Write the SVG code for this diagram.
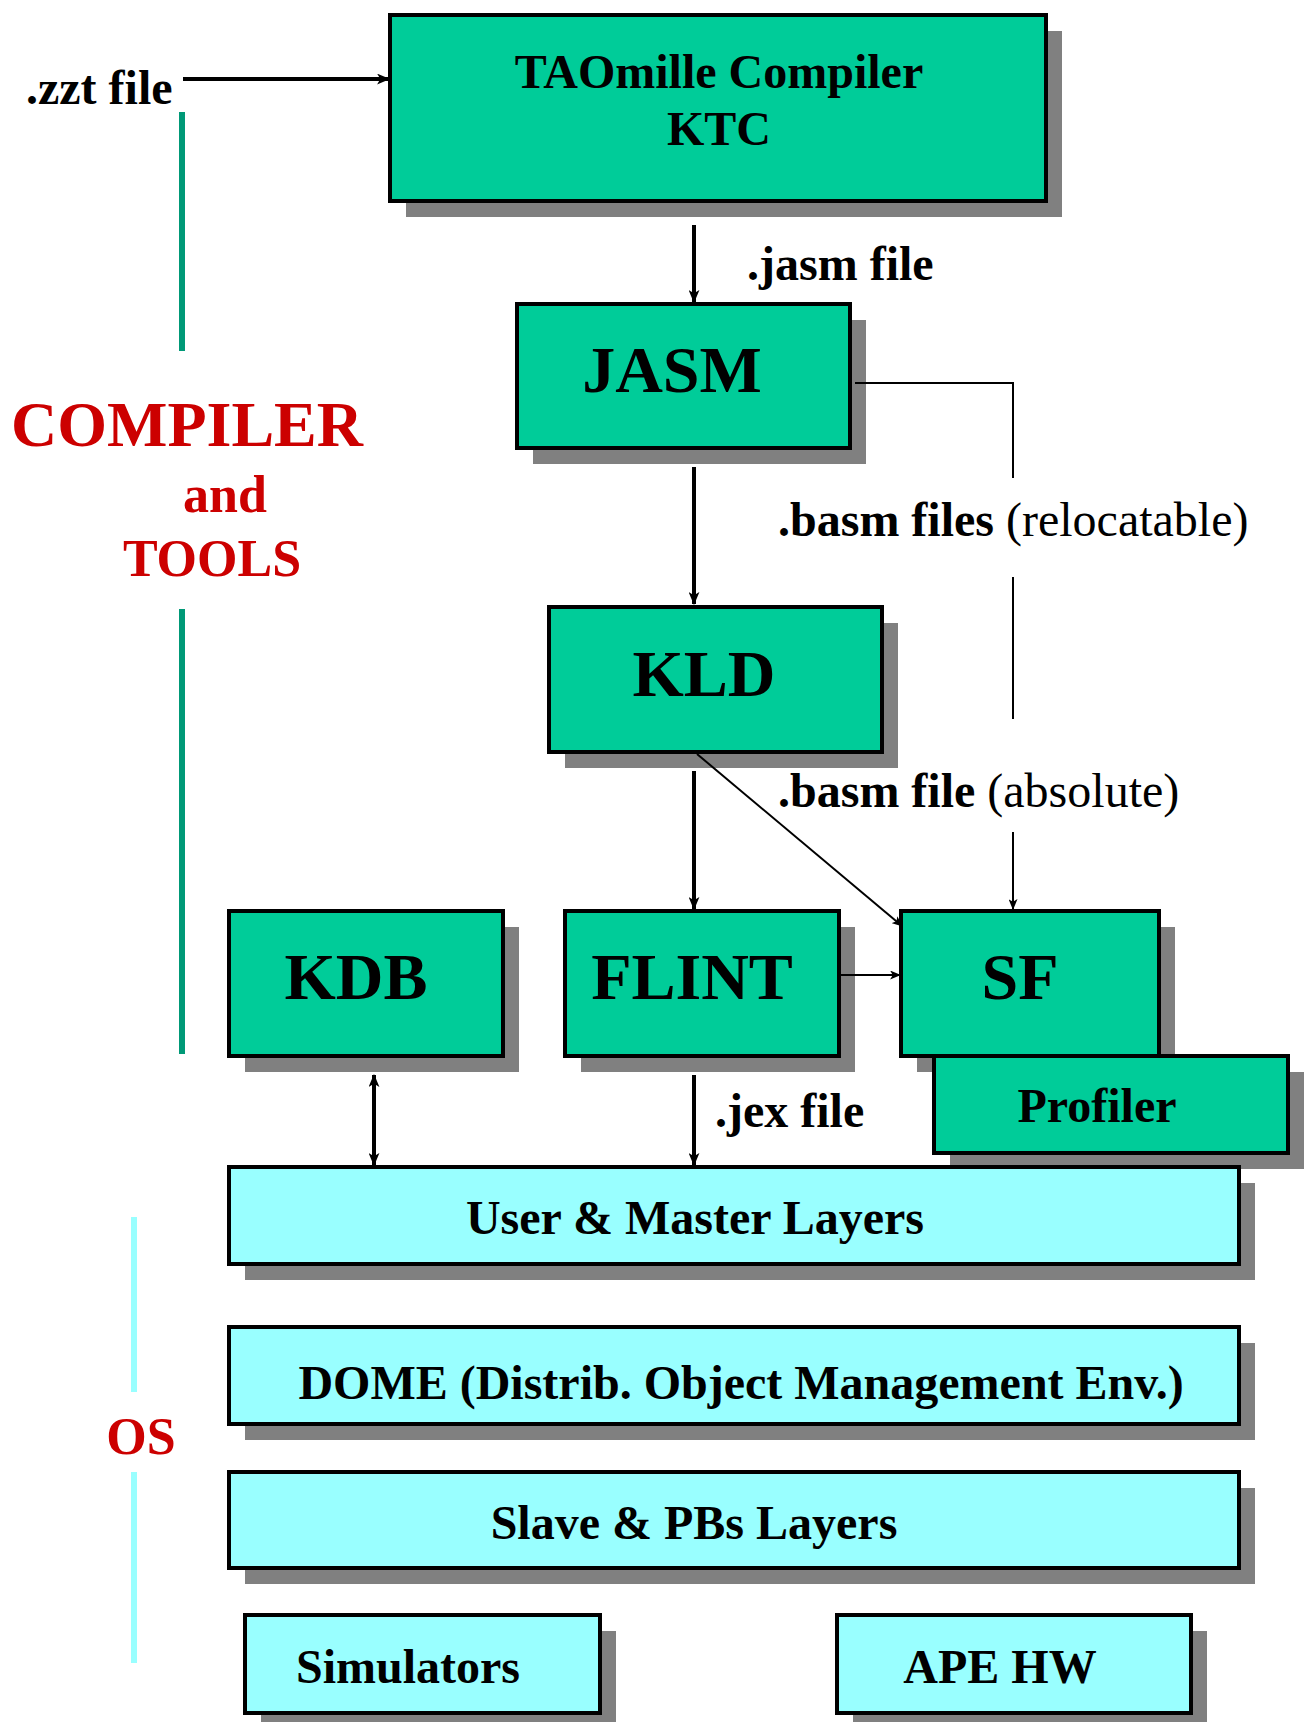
<svg xmlns="http://www.w3.org/2000/svg" width="1311" height="1722" viewBox="0 0 1311 1722">
<defs>
<marker id="ah" viewBox="0 0 12 10" refX="11" refY="5" markerWidth="13" markerHeight="11" markerUnits="userSpaceOnUse" orient="auto-start-reverse"><path d="M0,0 L12,5 L0,10 L3,5 Z" fill="#000"/></marker>
<marker id="ahs" viewBox="0 0 12 10" refX="11" refY="5" markerWidth="11" markerHeight="9" markerUnits="userSpaceOnUse" orient="auto"><path d="M0,0 L12,5 L0,10 L3,5 Z" fill="#000"/></marker>
</defs>
<style>
.sh{fill:#808080}
.g{fill:#00CC99;stroke:#000;stroke-width:4}
.c{fill:#99FFFF;stroke:#000;stroke-width:4}
text{font-family:"Liberation Serif","Times New Roman",serif;font-weight:bold;fill:#000}
.t48{font-size:48px;text-anchor:middle}
.t66{font-size:66px;text-anchor:middle}
.lab{font-size:48px}
.red{fill:#CC0000}
.n{font-weight:normal}
.thick{stroke:#000;stroke-width:4;fill:none}
.thin{stroke:#000;stroke-width:2;fill:none}
</style>
<rect width="1311" height="1722" fill="#fff"/>

<g id="side-labels">
<line x1="182" y1="112" x2="182" y2="351" stroke="#009977" stroke-width="6"/>
<line x1="182" y1="609" x2="182" y2="1054" stroke="#009977" stroke-width="6"/>
<text x="11" y="446" class="red" style="font-size:64px">COMPILER</text>
<text x="225" y="512" class="red" style="font-size:52px;text-anchor:middle">and</text>
<text x="212" y="576" class="red" style="font-size:52px;text-anchor:middle">TOOLS</text>
<line x1="134" y1="1217" x2="134" y2="1392" stroke="#99FFFF" stroke-width="6"/>
<line x1="134" y1="1472" x2="134" y2="1663" stroke="#99FFFF" stroke-width="6"/>
<text x="141" y="1454" class="red" style="font-size:52px;text-anchor:middle">OS</text>
</g>

<g id="ktc">
<rect x="406" y="31" width="656" height="186" class="sh"/>
<rect x="390" y="15" width="656" height="186" class="g"/>
<text x="719" y="88" class="t48">TAOmille Compiler</text>
<text x="719" y="145" class="t48">KTC</text>
</g>

<g id="jasm">
<rect x="533" y="320" width="333" height="144" class="sh"/>
<rect x="517" y="304" width="333" height="144" class="g"/>
<text x="672" y="392" class="t66">JASM</text>
</g>

<g id="kld">
<rect x="565" y="623" width="333" height="145" class="sh"/>
<rect x="549" y="607" width="333" height="145" class="g"/>
<text x="704" y="696" class="t66">KLD</text>
</g>

<g id="kdb">
<rect x="245" y="927" width="274" height="145" class="sh"/>
<rect x="229" y="911" width="274" height="145" class="g"/>
<text x="356" y="999" class="t66">KDB</text>
</g>

<g id="flint">
<rect x="581" y="927" width="274" height="145" class="sh"/>
<rect x="565" y="911" width="274" height="145" class="g"/>
<text x="692" y="999" class="t66">FLINT</text>
</g>

<g id="sf">
<rect x="917" y="927" width="258" height="145" class="sh"/>
<rect x="901" y="911" width="258" height="145" class="g"/>
<text x="1020" y="999" class="t66">SF</text>
</g>

<g id="profiler">
<rect x="950" y="1072" width="354" height="97" class="sh"/>
<rect x="934" y="1056" width="354" height="97" class="g"/>
<text x="1097" y="1122" class="t48">Profiler</text>
</g>

<g id="user-master">
<rect x="245" y="1183" width="1010" height="97" class="sh"/>
<rect x="229" y="1167" width="1010" height="97" class="c"/>
<text x="695" y="1234" class="t48">User &amp; Master Layers</text>
</g>

<g id="dome">
<rect x="245" y="1343" width="1010" height="97" class="sh"/>
<rect x="229" y="1327" width="1010" height="97" class="c"/>
<text x="741" y="1399" class="t48">DOME (Distrib. Object Management Env.)</text>
</g>

<g id="slave">
<rect x="245" y="1488" width="1010" height="96" class="sh"/>
<rect x="229" y="1472" width="1010" height="96" class="c"/>
<text x="694" y="1539" class="t48">Slave &amp; PBs Layers</text>
</g>

<g id="simulators">
<rect x="261" y="1631" width="355" height="98" class="sh"/>
<rect x="245" y="1615" width="355" height="98" class="c"/>
<text x="408" y="1683" class="t48">Simulators</text>
</g>

<g id="apehw">
<rect x="853" y="1631" width="354" height="98" class="sh"/>
<rect x="837" y="1615" width="354" height="98" class="c"/>
<text x="1000" y="1683" class="t48">APE HW</text>
</g>

<g id="connectors">
<line x1="183" y1="79" x2="389" y2="79" class="thick" marker-end="url(#ah)"/>
<line x1="694" y1="225" x2="694" y2="302" class="thick" marker-end="url(#ah)"/>
<line x1="694" y1="467" x2="694" y2="604" class="thick" marker-end="url(#ah)"/>
<line x1="694" y1="771" x2="694" y2="909" class="thick" marker-end="url(#ah)"/>
<polyline points="855,383 1013,383 1013,478" class="thin"/>
<line x1="1013" y1="577" x2="1013" y2="719" class="thin"/>
<line x1="1013" y1="832" x2="1013" y2="909" class="thin" marker-end="url(#ahs)"/>
<line x1="697" y1="754" x2="902" y2="926" class="thin" marker-end="url(#ahs)"/>
<line x1="841" y1="975" x2="900" y2="975" class="thin" marker-end="url(#ahs)"/>
<line x1="374" y1="1075" x2="374" y2="1165" class="thick" marker-start="url(#ah)" marker-end="url(#ah)"/>
<line x1="694" y1="1075" x2="694" y2="1165" class="thick" marker-end="url(#ah)"/>
<text x="26" y="104" class="lab">.zzt file</text>
<text x="747" y="280" class="lab">.jasm file</text>
<text x="778" y="536" class="lab">.basm files <tspan class="n">(relocatable)</tspan></text>
<text x="778" y="807" class="lab">.basm file <tspan class="n">(absolute)</tspan></text>
<text x="715" y="1127" class="lab">.jex file</text>
</g>
</svg>
